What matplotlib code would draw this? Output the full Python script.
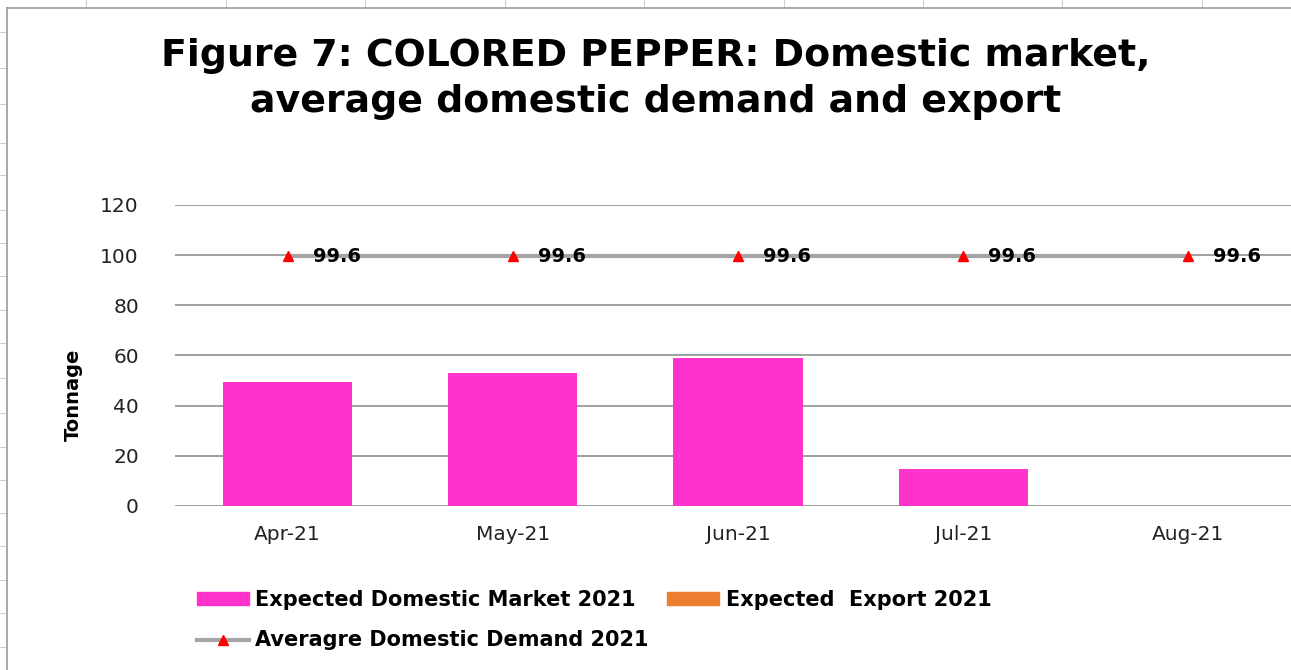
import matplotlib
matplotlib.use("Agg")
import matplotlib.pyplot as plt
from matplotlib.lines import Line2D
from matplotlib.patches import Patch
import numpy as np

plt.rcParams['font.family'] = 'DejaVu Sans'

# monthly figures, tonnes
months = ["Apr-21", "May-21", "Jun-21", "Jul-21", "Aug-21"]
domestic_market = [49.3, 53.1, 58.9, 14.6, 0.0]
export = [0.0, 0.0, 0.0, 0.0, 0.0]
avg_demand = [99.6, 99.6, 99.6, 99.6, 99.6]

pink = "#FF33CC"
orange = "#ED7D31"
grey_line = "#A5A5A5"

fig = plt.figure(figsize=(12.91, 6.70), dpi=100)

# sheet cell lines around the chart object
for xp in [86, 226, 365, 505, 644, 784, 923, 1062, 1202]:
    fig.add_artist(Line2D([xp / 1291, xp / 1291], [1, 1 - 7 / 670], color="#D0D0D0", lw=0.8))
for yp in [32, 68, 104, 143, 175, 210, 243, 276, 310, 343, 378, 413, 447, 480, 513, 546, 580, 613, 647]:
    fig.add_artist(Line2D([0, 6 / 1291], [1 - yp / 670, 1 - yp / 670], color="#D0D0D0", lw=0.8))
fig.add_artist(Line2D([6.5 / 1291, 6.5 / 1291], [0, 1 - 7.5 / 670], color="#9A9A9A", lw=1.2))
fig.add_artist(Line2D([6.5 / 1291, 1], [1 - 7.5 / 670, 1 - 7.5 / 670], color="#9A9A9A", lw=1.2))

ax = fig.add_axes([175 / 1291, 0.2448, 1126 / 1291, 0.4493])
x = np.arange(len(months))
width = 0.573

ax.bar(x, domestic_market, width, color=pink, zorder=2)
ax.bar(x, export, width, bottom=domestic_market, color=orange, zorder=2)
ax.plot(x, avg_demand, color=grey_line, lw=3, zorder=3,
        marker="^", markersize=7, markerfacecolor="red", markeredgecolor="red")
for xi, v in zip(x, avg_demand):
    ax.annotate(f"{v}", (xi, v), xytext=(18, 0), textcoords="offset points",
                ha="left", va="center", fontsize=14, fontweight="bold", zorder=4)

ax.set_xlim(-0.5, 4.5)
ax.set_ylim(0, 120)
ax.set_yticks(np.arange(0, 121, 20))
ax.set_xticks(x)
ax.set_xticklabels(months)
ax.tick_params(axis="both", length=0, labelsize=14.5, colors="#222222")
ax.tick_params(axis="y", pad=26)
ax.tick_params(axis="x", pad=14)
ax.grid(axis="y", color="#A0A0A0", lw=1.4, zorder=0)
for s in ax.spines.values():
    s.set_visible(False)
ax.set_ylabel("Tonnage", fontsize=14, fontweight="bold", labelpad=10)
ax.yaxis.set_label_coords(-92 / 1126, 0.37)

fig.text(0.508, 1 - 79 / 670, "Figure 7: COLORED PEPPER: Domestic market,\naverage domestic demand and export",
         ha="center", va="center", fontsize=27.3, fontweight="bold", linespacing=1.33)

handles = [
    Patch(color=pink, label="Expected Domestic Market 2021"),
    Line2D([], [], color=grey_line, lw=3, marker="^", markersize=7,
           markerfacecolor="red", markeredgecolor="red", label="Averagre Domestic Demand 2021"),
    Patch(color=orange, label="Expected  Export 2021"),
]
fig.legend(handles=handles, ncol=2, loc="upper left", bbox_to_anchor=(180 / 1291, 1 - 573 / 670),
           frameon=False, prop={"size": 15, "weight": "bold"}, handlelength=2.5, handleheight=0.6,
           handletextpad=0.3, columnspacing=0.9, labelspacing=1.0, borderpad=0.3)

fig.savefig("out.png", dpi=100)
